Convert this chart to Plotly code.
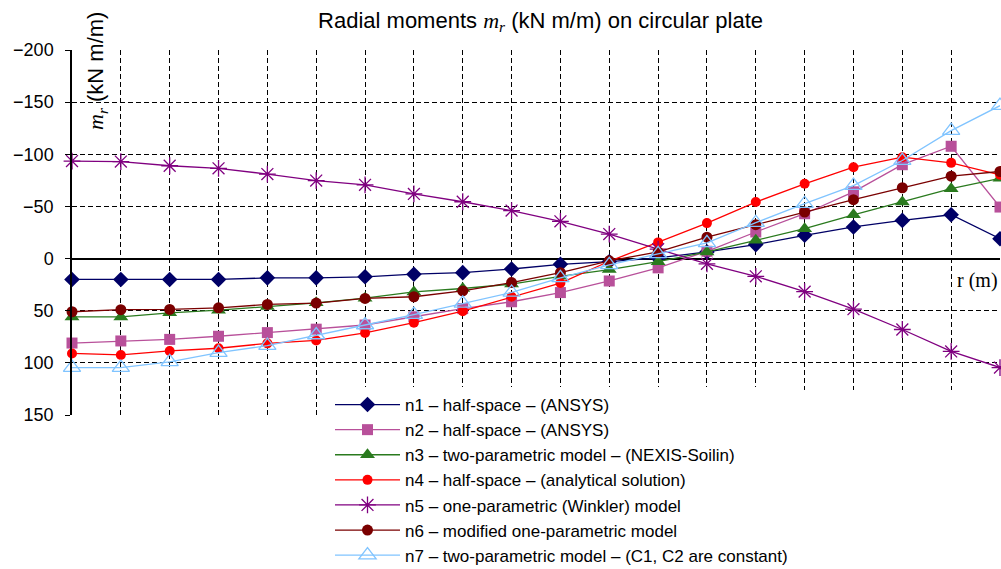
import plotly.graph_objects as go

# positions along radius (grid columns)
r = [0, 1, 2, 3, 4, 5, 6, 7, 8, 9, 10, 11, 12, 13, 14, 15, 16, 17, 18, 19]

n1 = [20, 20, 20, 20, 18.5, 18.5, 17.5, 15, 13.5, 10, 5.5, 3, -0.6, -6.4, -13.4, -22.3, -30.3, -36.6, -42, -19]
n2 = [81, 79, 77.5, 74.5, 71, 67.7, 63.7, 55.8, 48, 41.4, 32.6, 21.5, 8.9, -7, -25.5, -43, -64, -90, -107.7, -49.4]
n3 = [56, 56, 52, 49.5, 46, 42.4, 38, 32, 28.7, 24.5, 17, 10.5, 3, -6.4, -17.5, -28.7, -42, -54.2, -67, -77]
n4 = [91, 92.4, 88.6, 86, 81.3, 78.5, 71.3, 61.5, 50.4, 36.6, 23.5, 2.6, -15.5, -34, -54.2, -71.7, -87.6, -97.2, -91.8, -80.3]
n5 = [-93.5, -93, -89, -86.5, -81, -74.8, -70.7, -62, -54.5, -46, -35.7, -23.5, -9, 5, 17, 31.7, 48.5, 68, 89, 104.5]
n6 = [51, 49, 48.8, 47.2, 44, 42.7, 38.2, 36.6, 31, 23, 13.5, 2.2, -6.4, -20.5, -32.5, -44.6, -56.5, -67.9, -79, -83.5]
n7 = [104.5, 104.5, 99, 90.2, 83.5, 73.3, 63.7, 53.8, 43, 32.5, 18.5, 6, -4.5, -15, -34.4, -52.6, -70, -94, -122.7, -146.6]

names = [
    "n1 – half-space – (ANSYS)",
    "n2 – half-space – (ANSYS)",
    "n3 – two-parametric model – (NEXIS-Soilin)",
    "n4 – half-space – (analytical solution)",
    "n5 – one-parametric (Winkler) model",
    "n6 – modified one-parametric model",
    "n7 – two-parametric model – (C1, C2 are constant)",
]
y_ticks = [-200, -150, -100, -50, 0, 50, 100, 150]

series = [n1, n2, n3, n4, n5, n6, n7]
colors = ["#000066", "#B8509A", "#2A7A1E", "#FF0000", "#800080", "#7A0000", "#80C4FF"]
symbols = ["diamond", "square", "triangle-up", "circle", "asterisk-open", "circle", "triangle-up-open"]
sizes = [12, 11, 13, 10, 14, 11, 15]

fig = go.Figure()
for vals, name, c, s, sz in zip(series, names, colors, symbols, sizes):
    mline = dict(width=1.3, color=c) if s.endswith("open") else dict(width=0)
    fig.add_trace(go.Scatter(
        x=r, y=vals, name=name, mode="lines+markers",
        line=dict(color=c, width=1.3),
        marker=dict(symbol=s, size=sz, color=c, line=mline),
        cliponaxis=False,
    ))

grid = dict(showgrid=True, gridcolor="black", gridwidth=1, griddash="5px,3px")

fig.update_layout(
    width=1001, height=569,
    margin=dict(l=72, r=1, t=50, b=154, autoexpand=False),
    paper_bgcolor="white", plot_bgcolor="white",
    font=dict(family="Liberation Sans, Arial", size=18, color="black"),
    title=dict(
        text="Radial moments <span style=\"font-family:'Liberation Serif'\"><i>m<sub>r</sub></i></span> (kN m/m) on circular plate",
        x=0.54, xanchor="center", xref="container",
        y=1 - 20 / 569, yanchor="middle", yref="container",
        font=dict(size=22),
    ),
    xaxis=dict(range=[0, 19], dtick=1, tick0=0, showticklabels=False, ticks="",
               zeroline=False, showline=False, **grid),
    yaxis=dict(range=[150, -200], tickvals=y_ticks, ticks="outside", ticklen=5,
               tickcolor="black", ticklabelstandoff=8,
               showline=True, linecolor="black", linewidth=1.5,
               zeroline=True, zerolinecolor="black", zerolinewidth=1.5, **grid),
    legend=dict(
        x=(330 - 72) / 928, xanchor="left",
        y=(415 - 387) / 365, yanchor="top",
        bgcolor="white", borderwidth=0, itemwidth=65,
        font=dict(size=17), tracegroupgap=0,
    ),
    showlegend=True,
)

# white band behind legend covering grid under it
fig.add_shape(type="rect", xref="paper", yref="paper",
              x0=(330 - 72) / 928, x1=1.01, y0=-0.01, y1=(415 - 390) / 365,
              fillcolor="white", line=dict(width=0), layer="above")

fig.add_annotation(
    text="<span style=\"font-family:'Liberation Serif'\"><i>m<sub>r</sub></i></span> (kN m/m)",
    xref="paper", yref="paper", x=(97 - 72) / 928, y=(415 - 71) / 365,
    xanchor="center", yanchor="middle", textangle=-90, showarrow=False,
    font=dict(size=22),
)
fig.add_annotation(
    text="r (m)", xref="paper", yref="paper", x=1.0, y=(415 - 280) / 365,
    xanchor="right", yanchor="middle", showarrow=False,
    font=dict(family="Liberation Serif", size=20),
)

fig.write_html("out.html")
